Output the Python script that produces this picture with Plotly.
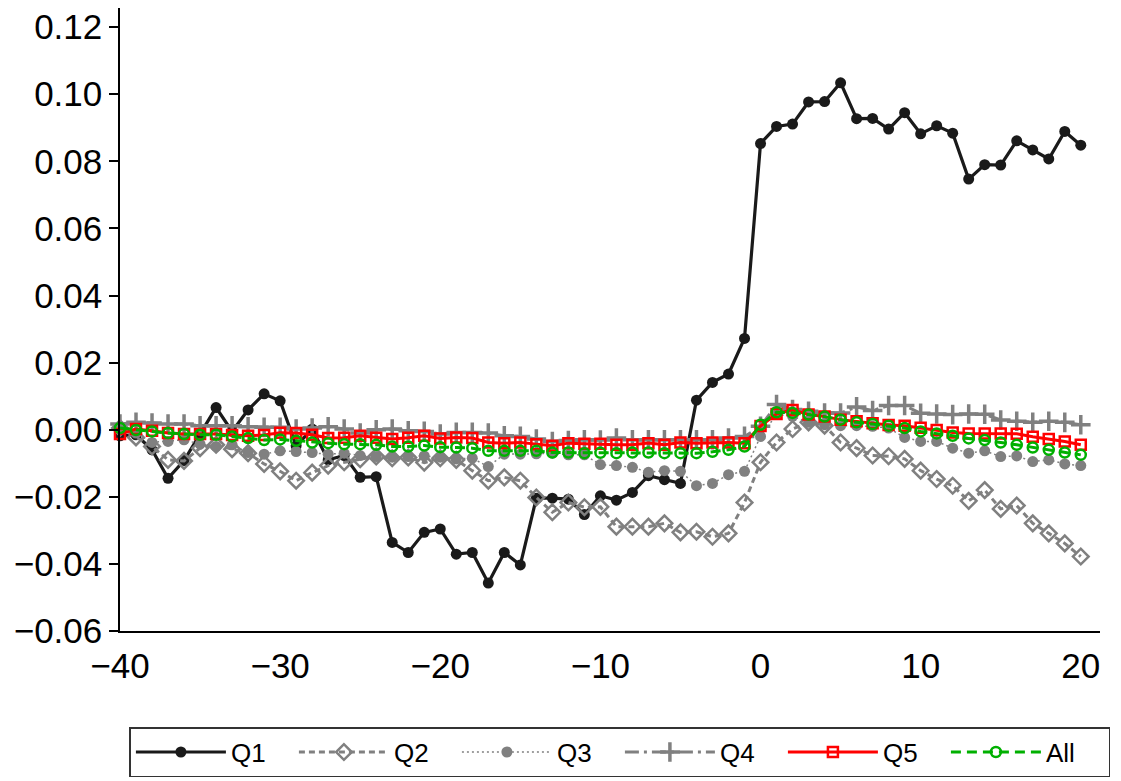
import plotly.graph_objects as go

# Event time (relative period)
periods = list(range(-40, 21))

# Cumulative abnormal response by quintile
q1 = [-0.0018, -0.0015, -0.0060, -0.0145, -0.0092, -0.0015, 0.0066, -0.0005, 0.0059, 0.0107,
      0.0086, -0.0048, 0.0002, -0.0090, -0.0077, -0.0142, -0.0140, -0.0336, -0.0366, -0.0306,
      -0.0296, -0.0371, -0.0366, -0.0457, -0.0366, -0.0403, -0.0204, -0.0204, -0.0207, -0.0253,
      -0.0197, -0.0210, -0.0187, -0.0137, -0.0149, -0.0160, 0.0088, 0.0141, 0.0166, 0.0272,
      0.0853, 0.0904, 0.0911, 0.0977, 0.0978, 0.1034, 0.0927, 0.0928, 0.0896, 0.0945,
      0.0882, 0.0906, 0.0884, 0.0747, 0.0790, 0.0789, 0.0861, 0.0834, 0.0807, 0.0889,
      0.0848]
q2 = [0.0005, -0.0023, -0.0050, -0.0090, -0.0093, -0.0055, -0.0045, -0.0058, -0.0070, -0.0102,
      -0.0124, -0.0152, -0.0128, -0.0107, -0.0097, -0.0088, -0.0080, -0.0085, -0.0083, -0.0098,
      -0.0085, -0.0090, -0.0122, -0.0152, -0.0142, -0.0152, -0.0202, -0.0246, -0.0217, -0.0231,
      -0.0230, -0.0289, -0.0289, -0.0289, -0.0279, -0.0306, -0.0304, -0.0319, -0.0309, -0.0217,
      -0.0097, -0.0038, 0.0002, 0.0022, 0.0012, -0.0038, -0.0055, -0.0077, -0.0079, -0.0087,
      -0.0122, -0.0147, -0.0167, -0.0212, -0.0180, -0.0236, -0.0226, -0.0279, -0.0309, -0.0339,
      -0.0378]
q3 = [0.0000, -0.0010, -0.0038, -0.0035, -0.0030, -0.0043, -0.0050, -0.0045, -0.0068, -0.0073,
      -0.0063, -0.0065, -0.0068, -0.0073, -0.0070, -0.0077, -0.0080, -0.0082, -0.0080, -0.0078,
      -0.0082, -0.0087, -0.0085, -0.0110, -0.0073, -0.0073, -0.0072, -0.0070, -0.0075, -0.0075,
      -0.0104, -0.0107, -0.0112, -0.0127, -0.0122, -0.0124, -0.0167, -0.0160, -0.0134, -0.0124,
      -0.0020, 0.0045, 0.0040, 0.0022, 0.0015, 0.0012, 0.0012, 0.0010, 0.0005, -0.0023,
      -0.0035, -0.0035, -0.0055, -0.0070, -0.0063, -0.0080, -0.0078, -0.0095, -0.0090, -0.0102,
      -0.0107]
q4 = [0.0017, 0.0022, 0.0020, 0.0017, 0.0017, 0.0012, 0.0012, 0.0012, 0.0009, 0.0007,
      0.0007, 0.0002, 0.0005, 0.0009, 0.0002, -0.0010, 0.0000, 0.0002, -0.0003, -0.0005,
      -0.0013, -0.0008, -0.0008, -0.0010, -0.0018, -0.0020, -0.0028, -0.0035, -0.0032, -0.0030,
      -0.0031, -0.0025, -0.0030, -0.0030, -0.0030, -0.0030, -0.0030, -0.0030, -0.0025, -0.0020,
      0.0010, 0.0075, 0.0060, 0.0055, 0.0050, 0.0050, 0.0068, 0.0057, 0.0072, 0.0072,
      0.0049, 0.0047, 0.0045, 0.0047, 0.0046, 0.0029, 0.0025, 0.0022, 0.0025, 0.0022,
      0.0015]
q5 = [-0.0013, 0.0002, -0.0003, -0.0010, -0.0013, -0.0013, -0.0013, -0.0016, -0.0018, -0.0016,
      -0.0009, -0.0010, -0.0015, -0.0025, -0.0024, -0.0018, -0.0024, -0.0028, -0.0024, -0.0018,
      -0.0026, -0.0023, -0.0025, -0.0038, -0.0040, -0.0038, -0.0043, -0.0048, -0.0040, -0.0042,
      -0.0042, -0.0045, -0.0045, -0.0040, -0.0045, -0.0038, -0.0040, -0.0038, -0.0038, -0.0040,
      0.0011, 0.0047, 0.0059, 0.0045, 0.0039, 0.0030, 0.0025, 0.0019, 0.0014, 0.0012,
      0.0006, -0.0001, -0.0008, -0.0011, -0.0011, -0.0011, -0.0012, -0.0021, -0.0028, -0.0035,
      -0.0045]
all_firms = [0.0005, -0.0001, -0.0005, -0.0010, -0.0013, -0.0015, -0.0015, -0.0020, -0.0025, -0.0031,
             -0.0029, -0.0033, -0.0038, -0.0040, -0.0043, -0.0043, -0.0045, -0.0050, -0.0050, -0.0047,
             -0.0052, -0.0053, -0.0055, -0.0063, -0.0063, -0.0063, -0.0063, -0.0068, -0.0068, -0.0070,
             -0.0069, -0.0070, -0.0068, -0.0068, -0.0070, -0.0070, -0.0070, -0.0066, -0.0060, -0.0050,
             0.0015, 0.0052, 0.0050, 0.0045, 0.0039, 0.0030, 0.0022, 0.0017, 0.0012, 0.0005,
             -0.0005, -0.0011, -0.0018, -0.0026, -0.0031, -0.0038, -0.0045, -0.0053, -0.0060, -0.0068,
             -0.0075]

x_ticks = [-40, -30, -20, -10, 0, 10, 20]
y_ticks = [-0.06, -0.04, -0.02, 0.00, 0.02, 0.04, 0.06, 0.08, 0.10, 0.12]
x_range = [-40, 21.2]

GRAY = "#808080"
series = [
    ("Q1", q1, dict(color="#1a1a1a", width=3.2, dash="solid"),
     dict(symbol="circle", size=11, color="#1a1a1a")),
    ("Q2", q2, dict(color=GRAY, width=3, dash="6px,4px"),
     dict(symbol="diamond-open", size=12, color=GRAY, line=dict(width=2.5, color=GRAY))),
    ("Q3", q3, dict(color=GRAY, width=1.5, dash="2px,3px"),
     dict(symbol="circle", size=11, color=GRAY)),
    ("Q4", q4, dict(color=GRAY, width=3, dash="14px,5px,3px,5px"),
     dict(symbol="cross-thin-open", size=14, color=GRAY, line=dict(width=3.5, color=GRAY))),
    ("Q5", q5, dict(color="#ff0000", width=3, dash="solid"),
     dict(symbol="square-open", size=10, color="#ff0000", line=dict(width=2.5, color="#ff0000"))),
    ("All", all_firms, dict(color="#00b000", width=3, dash="10px,6px"),
     dict(symbol="circle-open", size=10, color="#00b000", line=dict(width=2.5, color="#00b000"))),
]

fig = go.Figure()
for name, values, line, marker in series:
    fig.add_trace(go.Scatter(
        x=periods, y=values, name=name, mode="lines+markers",
        line=line, marker=marker, cliponaxis=False,
    ))

FONT = "Liberation Sans, Arial, Helvetica, sans-serif"
tick_font = dict(family=FONT, size=35, color="black")
axis_common = dict(
    showgrid=False, zeroline=False, showline=True, linecolor="black", linewidth=1.5,
    tickcolor="black", tickwidth=1.5, tickfont=tick_font, automargin=False,
)

fig.update_layout(
    width=1121, height=781,
    margin=dict(l=120, r=21, t=8, b=150),
    paper_bgcolor="white", plot_bgcolor="white",
    font=dict(family=FONT, color="black"),
    # labelled x axis sits close to the axis line; the overlay axis carries the tick marks
    xaxis=dict(range=x_range, tickvals=x_ticks, ticks="", ticklabelstandoff=3, **axis_common),
    xaxis2=dict(range=x_range, tickvals=x_ticks, ticks="outside", ticklen=9,
                showticklabels=False, overlaying="x", side="bottom", anchor="y",
                **axis_common),
    yaxis=dict(range=[-0.06, 0.1257], tickvals=y_ticks, tickformat=".2f",
               ticks="outside", ticklen=9, ticklabelstandoff=0, **axis_common),
    legend=dict(
        orientation="h", xref="container", yref="container",
        x=0.553, xanchor="center", y=0.069, yanchor="top",
        bordercolor="#333333", borderwidth=1.5, bgcolor="white",
        font=dict(family=FONT, size=26, color="black"),
        itemwidth=90, entrywidth=58, entrywidthmode="pixels",
    ),
    showlegend=True,
)

fig.write_html("out.html")
